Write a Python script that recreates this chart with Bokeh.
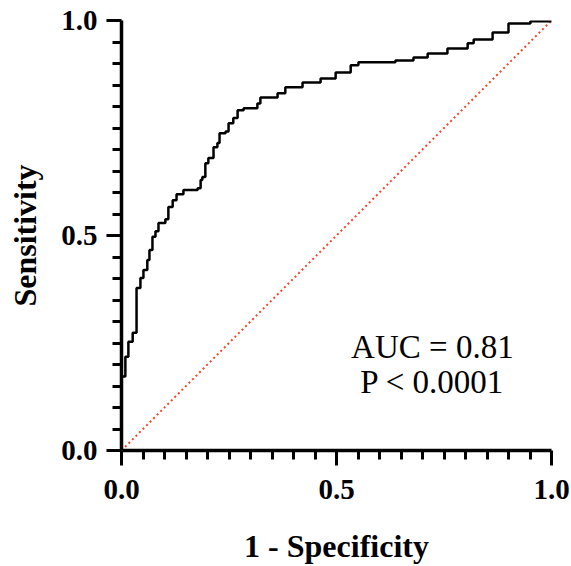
from bokeh.plotting import figure
from bokeh.models import Range1d, FixedTicker, PrintfTickFormatter, ColumnDataSource
from bokeh.embed import file_html
from bokeh.resources import INLINE
from bokeh.core.properties import value

# ROC curve step corners (1 - specificity, sensitivity)
fpr_steps = [0.0, 0.0, 0.009, 0.016, 0.026, 0.035, 0.044, 0.051, 0.060, 0.065,
             0.072, 0.079, 0.086, 0.102, 0.109, 0.119, 0.128, 0.144, 0.177, 0.184,
             0.188, 0.195, 0.202, 0.214, 0.223, 0.228, 0.242, 0.249, 0.260, 0.270,
             0.284, 0.316, 0.323, 0.363, 0.381, 0.421, 0.463, 0.498, 0.533, 0.551,
             0.637, 0.679, 0.712, 0.758, 0.805, 0.819, 0.863, 0.900, 0.951, 1.0]
tpr_steps = [0.0, 0.172, 0.218, 0.253, 0.274, 0.378, 0.401, 0.420, 0.443, 0.466,
             0.497, 0.510, 0.529, 0.538, 0.566, 0.582, 0.596, 0.606, 0.610, 0.629,
             0.636, 0.668, 0.680, 0.705, 0.715, 0.738, 0.742, 0.761, 0.773, 0.791,
             0.796, 0.807, 0.821, 0.831, 0.845, 0.856, 0.865, 0.879, 0.896, 0.903,
             0.907, 0.914, 0.923, 0.935, 0.947, 0.956, 0.972, 0.993, 0.998, 1.0]

ref_x = [0.0, 1.0]
ref_y = [0.0, 1.0]

major_ticks = [0.0, 0.5, 1.0]
minor_ticks = [0.05, 0.10, 0.15, 0.20, 0.25, 0.30, 0.35, 0.40, 0.45,
               0.55, 0.60, 0.65, 0.70, 0.75, 0.80, 0.85, 0.90, 0.95]

annot_x = [0.723, 0.723]
annot_y = [0.241, 0.160]
annot_text = ["AUC = 0.81", "P < 0.0001"]

p = figure(width=571, height=566, output_backend="svg", toolbar_location=None,
           x_range=Range1d(0, 1), y_range=Range1d(0, 1),
           min_border_left=121, min_border_right=20, min_border_top=20, min_border_bottom=115)
p.outline_line_color = None
p.grid.visible = False
p.background_fill_color = "white"
p.border_fill_color = "white"

p.line(ref_x, ref_y, line_color="#ee4b2b", line_width=2, line_dash="2 3")
p.step(fpr_steps, tpr_steps, mode="after", line_color="black", line_width=2.5)

src = ColumnDataSource(dict(x=annot_x, y=annot_y, text=annot_text))
p.text(x="x", y="y", text="text", source=src, text_align="center", text_baseline="alphabetic",
       text_font=value("Liberation Serif"), text_font_size="33px", text_color="black")

for ax in (p.xaxis[0], p.yaxis[0]):
    ax.ticker = FixedTicker(ticks=major_ticks, minor_ticks=minor_ticks)
    ax.formatter = PrintfTickFormatter(format="%.1f")
    ax.axis_line_width = 3.5
    ax.axis_line_color = "black"
    ax.major_tick_line_width = 3
    ax.minor_tick_line_width = 3
    ax.major_tick_line_color = "black"
    ax.minor_tick_line_color = "black"
    ax.major_tick_in = 0
    ax.major_tick_out = 15
    ax.minor_tick_in = 0
    ax.minor_tick_out = 9
    ax.major_label_text_font = "Liberation Serif"
    ax.major_label_text_font_style = "bold"
    ax.major_label_text_font_size = "29px"
    ax.major_label_text_color = "black"
    ax.axis_label_text_font = "Liberation Serif"
    ax.axis_label_text_font_style = "bold"
    ax.axis_label_text_font_size = "32px"
    ax.axis_label_text_color = "black"

p.xaxis.axis_label = "1 - Specificity"
p.yaxis.axis_label = "Sensitivity"
p.xaxis.major_label_standoff = 14
p.yaxis.major_label_standoff = 9
p.xaxis.axis_label_standoff = 26
p.yaxis.axis_label_standoff = 15

open("out.html", "w").write(file_html(p, INLINE))
